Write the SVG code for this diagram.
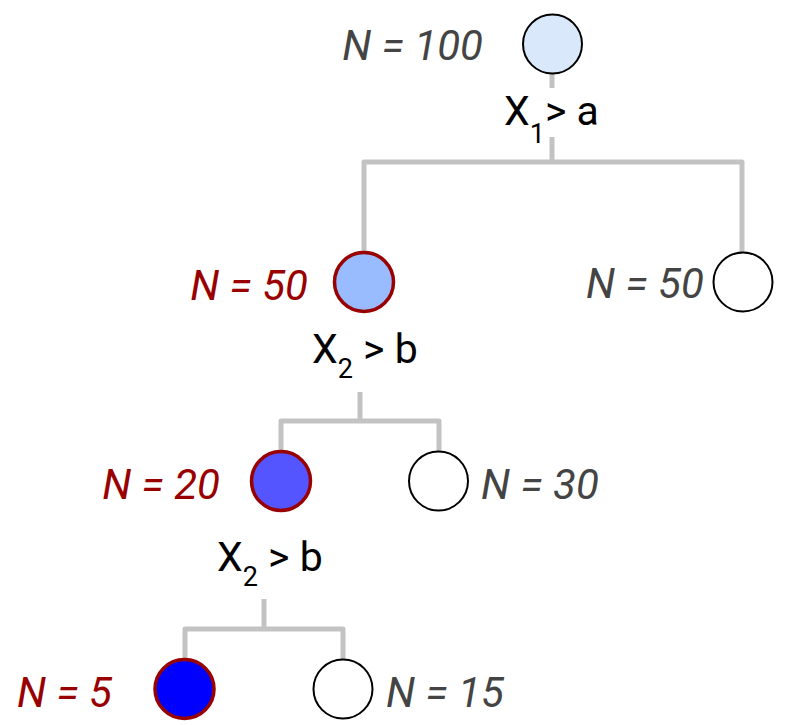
<svg xmlns="http://www.w3.org/2000/svg" width="788" height="725" viewBox="0 0 788 725">
<style>
.edge{fill:none;stroke:#c3c3c3;stroke-width:5;stroke-linejoin:round}
.lbl{font-family:Roboto,"Liberation Sans",sans-serif;font-size:42px;font-style:italic}
.red{fill:#990000}
.gray{fill:#444444}
.cond{font-family:Roboto,"Liberation Sans",sans-serif;font-size:41px;fill:#000}
.sub{font-size:27px}
.plain{stroke:#000;stroke-width:2}
.hl{stroke:#990000;stroke-width:3.5}
</style>
<rect width="788" height="725" fill="#fff"/>
<g id="connectors">
<path class="edge" d="M552 74V88"/>
<path class="edge" d="M552 137V162M364 251V162H742V252"/>
<path class="edge" d="M360 392V421M281 450V421H439V451"/>
<path class="edge" d="M264 599V629M185 658V629H343V659"/>
</g>
<g id="root">
<circle class="plain" cx="552.5" cy="44" r="29.5" fill="#dae8fc"/>
<text class="lbl gray" x="483" y="60" text-anchor="end">N = 100</text>
<text class="cond" x="504" y="125">X<tspan class="sub" dy="18">1</tspan><tspan dy="-18">&gt; a</tspan></text>
</g>
<g id="n50L">
<circle class="hl" cx="364" cy="282" r="29.5" fill="#99bbff"/>
<text class="lbl red" x="308" y="300" text-anchor="end">N = 50</text>
<text class="cond" x="312" y="363">X<tspan class="sub" dy="15">2</tspan><tspan dy="-15"> &gt; b</tspan></text>
</g>
<g id="n50R">
<circle class="plain" cx="743" cy="282" r="29.5" fill="#fff"/>
<text class="lbl gray" x="586" y="298">N = 50</text>
</g>
<g id="n20">
<circle class="hl" cx="281" cy="481" r="29.5" fill="#5555ff"/>
<text class="lbl red" x="220" y="499" text-anchor="end">N = 20</text>
<text class="cond" x="217" y="571">X<tspan class="sub" dy="15">2</tspan><tspan dy="-15"> &gt; b</tspan></text>
</g>
<g id="n30">
<circle class="plain" cx="438.5" cy="481" r="29.5" fill="#fff"/>
<text class="lbl gray" x="481" y="499">N = 30</text>
</g>
<g id="n5">
<circle class="hl" cx="184.5" cy="689" r="29.5" fill="#0000ff"/>
<text class="lbl red" x="112" y="707" text-anchor="end">N = 5</text>
</g>
<g id="n15">
<circle class="plain" cx="343" cy="689" r="29.5" fill="#fff"/>
<text class="lbl gray" x="386" y="707">N = 15</text>
</g>
</svg>
